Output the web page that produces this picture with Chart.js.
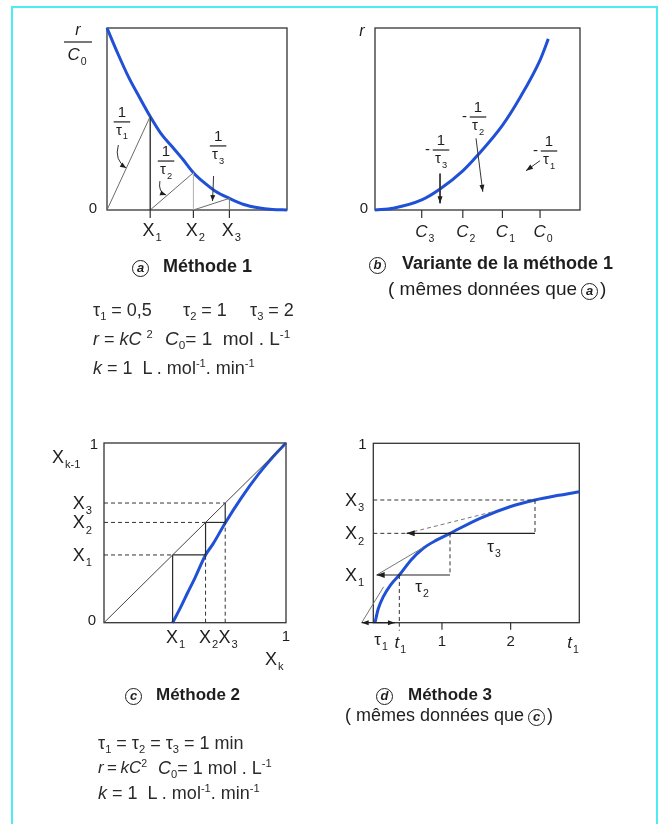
<!DOCTYPE html>
<html>
<head>
<meta charset="utf-8">
<script src="https://cdn.jsdelivr.net/npm/chart.js@4.4.0/dist/chart.umd.min.js"></script>
<style>
  body { margin: 0; background: #fff; width: 664px; height: 824px; overflow: hidden; font-family: "Liberation Sans", Arial, sans-serif; color: #1e1e1e; }
  #frame { position: absolute; left: 11px; top: 6px; width: 643px; height: 900px; border: 2px solid #4cecf2; border-bottom: none; }
  canvas { position: absolute; left: 0; top: 0; }
  .cap { position: absolute; font-weight: bold; font-size: 18px; line-height: 20px; white-space: nowrap; }
  .circ { display: inline-block; box-sizing: border-box; width: 17px; height: 17px; border: 1.5px solid #1e1e1e; border-radius: 50%; text-align: center; line-height: 14px; font-style: italic; font-size: 13px; font-weight: bold; vertical-align: 0px; }
  .cap .circ { margin-right: 14px; }
  .sub2 { font-weight: normal; font-size: 19px; }
  .sub2 .circ { margin: 0 2px 0 4px; }
  .note { position: absolute; font-size: 18px; line-height: 20px; white-space: pre; color: #2a2a2a; }
  .note i { font-style: italic; }
  .note sub { font-size: 0.62em; vertical-align: -0.35em; line-height: 0; }
  .note sup { font-size: 0.62em; vertical-align: 0.6em; line-height: 0; }
</style>
</head>
<body>
<div id="frame"></div>
<canvas id="pa" width="664" height="824"></canvas>
<canvas id="pb" width="664" height="824"></canvas>
<canvas id="pc" width="664" height="824"></canvas>
<canvas id="pd" width="664" height="824"></canvas>

<div class="cap" style="left:132px;top:256px"><span class="circ">a</span>Méthode 1</div>
<div class="cap" style="left:369px;top:253px"><span class="circ" style="margin-right:16px">b</span>Variante de la méthode 1</div>
<div class="cap sub2" style="left:388px;top:279px">( mêmes données que<span class="circ">a</span>)</div>
<div class="cap" style="left:125px;top:685px;font-size:17px"><span class="circ">c</span>Méthode 2</div>
<div class="cap" style="left:376px;top:685px;font-size:17px"><span class="circ" style="margin-right:15px">d</span>Méthode 3</div>
<div class="cap sub2" style="left:345px;top:705px;font-size:18px">( mêmes données que<span class="circ">c</span>)</div>

<div class="note" style="left:93px;top:300px">τ<sub>1</sub> = 0,5</div>
<div class="note" style="left:183px;top:300px">τ<sub>2</sub> = 1</div>
<div class="note" style="left:250px;top:300px">τ<sub>3</sub> = 2</div>
<div class="note" style="left:93px;top:329px"><i>r</i> = <i>kC</i> <sup>2</sup></div>
<div class="note" style="left:165px;top:329px;font-size:19px"><i>C</i><sub>0</sub>= 1  mol . L<sup>-1</sup></div>
<div class="note" style="left:93px;top:358px"><i>k</i> = 1  L . mol<sup>-1</sup>. min<sup>-1</sup></div>

<div class="note" style="left:98px;top:733px">τ<sub>1</sub> = τ<sub>2</sub> = τ<sub>3</sub> = 1 min</div>
<div class="note" style="left:98px;top:758px;font-size:17px"><i>r</i>&#8201;=&#8201;<i>kC</i><sup>2</sup></div>
<div class="note" style="left:158px;top:758px"><i>C</i><sub>0</sub>= 1 mol . L<sup>-1</sup></div>
<div class="note" style="left:98px;top:783px"><i>k</i> = 1  L . mol<sup>-1</sup>. min<sup>-1</sup></div>

<script>
// (a) r/C0 against conversion X
const convA = [0, 0.06, 0.12, 0.18, 0.24, 0.30, 0.36, 0.42, 0.48, 0.54, 0.60, 0.68, 0.76, 0.84, 0.92, 1.0];
const rateA = [1, 0.86, 0.73, 0.62, 0.514, 0.42, 0.35, 0.28, 0.205, 0.15, 0.105, 0.064, 0.03, 0.012, 0.003, 0];
const stepsA = [0.24, 0.48, 0.68];
const stepRateA = [0.514, 0.205, 0.064];

// (b) r against concentration C
const concB = [0, 0.111, 0.283, 0.394, 0.532, 0.616, 0.772, 0.879, 1.0, 1.05];
const rateB = [0, 0.01, 0.055, 0.115, 0.215, 0.295, 0.465, 0.618, 0.824, 0.94];
const concTicksB = [0.283, 0.532, 0.772, 1.0];
const concNamesB = ['3', '2', '1', '0'];

// (c) X(k-1) against X(k)
const convC = [0.377, 0.42, 0.46, 0.5, 0.558, 0.6, 0.666, 0.75, 0.85, 0.93, 1];
const prevC = [0, 0.084, 0.168, 0.25, 0.377, 0.44, 0.555, 0.688, 0.828, 0.925, 1];
const stepsC = [0.377, 0.558, 0.666];

// (d) batch curve X(t)
const timeD = [0.025, 0.07, 0.146, 0.25, 0.379, 0.55, 0.728, 0.92, 1.117, 1.554, 2.0, 2.355, 2.7, 3.0];
const convD = [0, 0.075, 0.145, 0.21, 0.266, 0.35, 0.415, 0.46, 0.498, 0.582, 0.648, 0.684, 0.71, 0.73];
const levelsD = [0.266, 0.498, 0.684];
const timesD = [0.379, 1.117, 2.355];
const tauD = [0.484, 1.068, 1.869];
const tStartD = -0.169;

const BLUE = '#1f50d6';
const INK = '#1e1e1e';
const FONT = '"Liberation Sans", Arial, sans-serif';

function seg(x0, y0, x1, y1, color, width, dash) {
  return { data: [{ x: x0, y: y0 }, { x: x1, y: y1 }], borderColor: color, borderWidth: width, borderDash: dash || [], tension: 0 };
}
function curve(xs, ys, color, width) {
  return { data: xs.map((x, i) => ({ x: x, y: ys[i] })), borderColor: color, borderWidth: width, cubicInterpolationMode: 'monotone' };
}

function label(ctx, x, y, main, sub, size, italic, align) {
  const f = (s, it) => (it ? 'italic ' : '') + s + 'px ' + FONT;
  ctx.font = f(size, italic);
  const w1 = ctx.measureText(main).width;
  ctx.font = f(size * 0.62, false);
  const w2 = sub ? ctx.measureText(sub).width + 1 : 0;
  let x0 = x - (w1 + w2) / 2;
  if (align === 'right') x0 = x - w1 - w2;
  if (align === 'left') x0 = x;
  ctx.fillStyle = INK;
  ctx.textBaseline = 'middle';
  ctx.textAlign = 'left';
  ctx.font = f(size, italic);
  ctx.fillText(main, x0, y);
  if (sub) {
    ctx.font = f(size * 0.62, false);
    ctx.fillText(sub, x0 + w1 + 1, y + size * 0.4);
  }
}

function frac(ctx, x, y, k, minus, size) {
  label(ctx, x, y - size * 0.58, '1', '', size, false);
  ctx.strokeStyle = INK;
  ctx.lineWidth = 1.2;
  ctx.beginPath();
  ctx.moveTo(x - size * 0.55, y);
  ctx.lineTo(x + size * 0.55, y);
  ctx.stroke();
  label(ctx, x, y + size * 0.6, 'τ', k, size, false);
  if (minus) label(ctx, x - size * 0.9, y, '-', '', size, false);
}

function head(ctx, from, to, len, wid) {
  const a = Math.atan2(to[1] - from[1], to[0] - from[0]);
  ctx.fillStyle = INK;
  ctx.beginPath();
  ctx.moveTo(to[0], to[1]);
  ctx.lineTo(to[0] - len * Math.cos(a) + wid * Math.sin(a), to[1] - len * Math.sin(a) - wid * Math.cos(a));
  ctx.lineTo(to[0] - len * Math.cos(a) - wid * Math.sin(a), to[1] - len * Math.sin(a) + wid * Math.cos(a));
  ctx.closePath();
  ctx.fill();
}

function line(ctx, p, q, color, width, dash) {
  ctx.strokeStyle = color || INK;
  ctx.lineWidth = width || 1;
  ctx.setLineDash(dash || []);
  ctx.beginPath();
  ctx.moveTo(p[0], p[1]);
  ctx.lineTo(q[0], q[1]);
  ctx.stroke();
  ctx.setLineDash([]);
}

function panel(id, box, xr, yr, datasets, draw) {
  return new Chart(document.getElementById(id), {
    type: 'line',
    data: { datasets: datasets.map(d => Object.assign({ fill: false, pointRadius: 0, clip: false }, d)) },
    options: {
      responsive: false,
      animation: false,
      devicePixelRatio: 1,
      events: [],
      layout: { padding: { left: box[0], top: box[1], right: 664 - box[2], bottom: 824 - box[3] } },
      plugins: { legend: { display: false }, tooltip: { enabled: false } },
      scales: {
        x: { type: 'linear', min: xr[0], max: xr[1], display: false },
        y: { type: 'linear', min: yr[0], max: yr[1], display: false }
      }
    },
    plugins: [{
      id: 'box_' + id,
      beforeDatasetsDraw(chart) {
        const a = chart.chartArea, c = chart.ctx;
        c.save();
        c.strokeStyle = '#333';
        c.lineWidth = 1.3;
        c.strokeRect(a.left, a.top, a.right - a.left, a.bottom - a.top);
        c.restore();
      },
      afterDatasetsDraw(chart) {
        const P = (x, y) => [chart.scales.x.getPixelForValue(x), chart.scales.y.getPixelForValue(y)];
        chart.ctx.save();
        draw(chart.ctx, P, chart.chartArea);
        chart.ctx.restore();
      }
    }]
  });
}

// ---- (a) Méthode 1
const dsA = [];
stepsA.forEach((x, k) => {
  dsA.push(seg(k ? stepsA[k - 1] : 0, 0, x, stepRateA[k], '#6a6a6a', 1));
  dsA.push(seg(x, 0, x, stepRateA[k], ['#222', '#b0b0b0', '#777'][k], [1.3, 1, 1][k]));
});
dsA.push(curve(convA, rateA, BLUE, 3));

panel('pa', [107, 28, 287, 210], [0, 1], [0, 1], dsA, (ctx, P, a) => {
  stepsA.forEach((x, k) => {
    const p = P(x, 0);
    line(ctx, p, [p[0], p[1] + 8], '#333', 1.2);
    label(ctx, p[0] + 2, a.bottom + 21, 'X', String(k + 1), 18, false);
  });
  label(ctx, a.left - 14, a.bottom - 1, '0', '', 15, false);
  label(ctx, a.left - 29, 31, 'r', '', 16, true);
  line(ctx, [a.left - 43, 42], [a.left - 15, 42], INK, 1.2);
  label(ctx, a.left - 30, 55, 'C', '0', 17, true);

  [[0.083, 0.484], [0.328, 0.269], [0.617, 0.352]].forEach((q, k) => {
    const p = P(q[0], q[1]);
    frac(ctx, p[0], p[1], String(k + 1), false, 15);
  });
  // pointers from the slope labels to their lines
  ctx.strokeStyle = '#333';
  ctx.lineWidth = 1;
  [[[0.063, 0.357], [0.039, 0.275], [0.106, 0.231]],
   [[0.294, 0.159], [0.283, 0.099], [0.328, 0.082]],
   [[0.592, 0.187], [0.59, 0.12], [0.586, 0.049]]].forEach(arc => {
    const s = P(...arc[0]), c = P(...arc[1]), e = P(...arc[2]);
    ctx.beginPath();
    ctx.moveTo(s[0], s[1]);
    ctx.quadraticCurveTo(c[0], c[1], e[0], e[1]);
    ctx.stroke();
    head(ctx, c, e, 6, 2.5);
  });
});

// ---- (b) Variante de la méthode 1
const arrowsB = [[[0.394, 0.2], [0.394, 0.037]], [[0.612, 0.394], [0.653, 0.1]], [[1.0, 0.271], [0.915, 0.216]]];
const dsB = arrowsB.map(ar => seg(ar[0][0], ar[0][1], ar[1][0], ar[1][1], '#333', 1));
dsB.push(curve(concB, rateB, BLUE, 3));

panel('pb', [375, 28, 580, 210], [0, 1.242], [0, 1], dsB, (ctx, P, a) => {
  concTicksB.forEach((c, k) => {
    const p = P(c, 0);
    line(ctx, p, [p[0], p[1] + 8], '#333', 1.2);
    label(ctx, p[0] + 3, a.bottom + 22, 'C', concNamesB[k], 17, true);
  });
  label(ctx, a.left - 11, a.bottom - 1, '0', '', 15, false);
  label(ctx, a.left - 13, 32, 'r', '', 16, true);
  arrowsB.forEach(ar => head(ctx, P(...ar[0]), P(...ar[1]), 7, 2.5));
  frac(ctx, 441, 150, '3', true, 15);
  frac(ctx, 478, 117, '2', true, 15);
  frac(ctx, 549, 151, '1', true, 15);
});

// ---- (c) Méthode 2
const [c1, c2, c3] = stepsC;
const solidC = '#2a2a2a', dashC = [4, 3];
const dsC = [
  seg(0, 0, 1, 1, '#444', 1),
  seg(0, c1, c1, c1, '#333', 1, dashC),
  seg(0, c2, c2, c2, '#333', 1, dashC),
  seg(0, c3, c3, c3, '#333', 1, dashC),
  seg(c2, 0, c2, c1, '#333', 1, dashC),
  seg(c3, 0, c3, c2, '#333', 1, dashC),
  seg(c1, 0, c1, c1, solidC, 1.2),
  seg(c1, c1, c2, c1, solidC, 1.2),
  seg(c2, c1, c2, c2, solidC, 1.2),
  seg(c2, c2, c3, c2, solidC, 1.2),
  seg(c3, c2, c3, c3, solidC, 1.2),
  curve(convC, prevC, BLUE, 3)
];

panel('pc', [104, 443, 286, 622.7], [0, 1], [0, 1], dsC, (ctx, P, a) => {
  stepsC.forEach((x, k) => {
    const px = P(x, 0), py = P(0, x);
    label(ctx, px[0] + 3, a.bottom + 15, 'X', String(k + 1), 18, false);
    label(ctx, a.left - 12, py[1] + 1, 'X', String(k + 1), 18, false, 'right');
  });
  label(ctx, a.left - 10, a.top + 2, '1', '', 15, false);
  label(ctx, a.left - 12, a.bottom - 2, '0', '', 15, false);
  label(ctx, a.right, a.bottom + 14, '1', '', 15, false);
  label(ctx, 52, 458, 'X', 'k-1', 18, false, 'left');
  label(ctx, 265, 660, 'X', 'k', 18, false, 'left');
});

// ---- (d) Méthode 3
const [d1, d2, d3] = levelsD;
const [t1, t2, t3] = timesD;
const dashD = [4, 3];
const dsD = [
  seg(0, d3, t3, d3, '#333', 1, dashD),
  seg(t3, d3, t3, d2, '#333', 1, dashD),
  seg(0, d2, t3 - tauD[2], d2, '#333', 1, dashD),
  seg(t3, d2, t3 - tauD[2], d2, '#222', 1.2),
  seg(t2, d2, t2, d1, '#333', 1, dashD),
  seg(t2, d1, t2 - tauD[1], d1, '#222', 1.2),
  seg(t1, d1, t1, 0, '#333', 1, dashD),
  seg(tStartD, 0, tStartD + tauD[0], 0, '#222', 1.2),
  seg(tStartD, 0, 0.15, 0.2, '#777', 1),
  seg(t2 - tauD[1], d1, 0.73, 0.42, '#777', 1),
  seg(t3 - tauD[2], d2, 1.747, 0.619, '#777', 1, dashD),
  curve(timeD, convD, BLUE, 3)
];

panel('pd', [373.3, 443.3, 579.3, 622.7], [0, 3], [0, 1], dsD, (ctx, P, a) => {
  head(ctx, P(t3, d2), P(t3 - tauD[2], d2), 8, 3);
  head(ctx, P(t2, d1), P(t2 - tauD[1], d1), 8, 3);
  head(ctx, P(tStartD + 0.2, 0), P(tStartD, 0), 7, 2.5);
  head(ctx, P(tStartD, 0), P(tStartD + tauD[0], 0), 7, 2.5);
  const pt = P(t1, 0);
  line(ctx, pt, [pt[0], pt[1] + 8], '#333', 1, dashD);
  [1, 2].forEach(v => {
    const p = P(v, 0);
    line(ctx, p, [p[0], p[1] + 7], '#333', 1.2);
    label(ctx, p[0], a.bottom + 19, String(v), '', 15, false);
  });
  label(ctx, pt[0] + 1, a.bottom + 21, 't', '1', 17, true);
  label(ctx, P(2.91, 0)[0], a.bottom + 21, 't', '1', 17, true);
  label(ctx, 381, a.bottom + 18, 'τ', '1', 17, false);
  levelsD.forEach((v, k) => label(ctx, a.left - 9, P(0, v)[1] + 1, 'X', String(k + 1), 18, false, 'right'));
  label(ctx, a.left - 11, a.top + 2, '1', '', 15, false);
  label(ctx, 422, 587, 'τ', '2', 17, false);
  label(ctx, 494, 547, 'τ', '3', 17, false);
});
</script>
</body>
</html>
